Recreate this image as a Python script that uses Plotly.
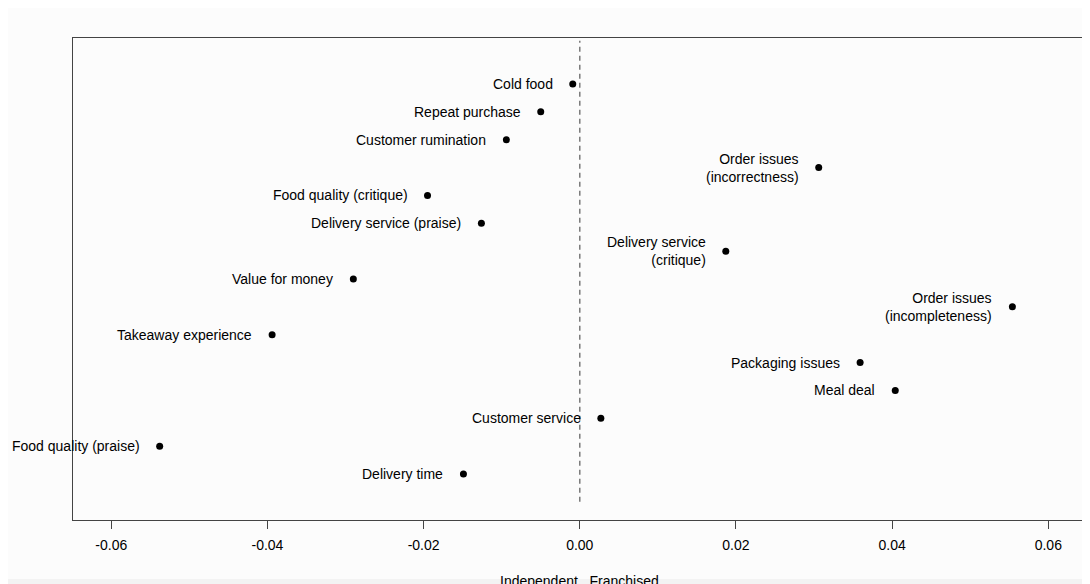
import plotly.graph_objects as go

# Categories listed top to bottom
labels = [
    "Cold food",
    "Repeat purchase",
    "Customer rumination",
    "Order issues<br>(incorrectness)",
    "Food quality (critique)",
    "Delivery service (praise)",
    "Delivery service<br>(critique)",
    "Value for money",
    "Order issues<br>(incompleteness)",
    "Takeaway experience",
    "Packaging issues",
    "Meal deal",
    "Customer service",
    "Food quality (praise)",
    "Delivery time",
]
values = [
    -0.0009, -0.0050, -0.0094, 0.0306, -0.0195, -0.0126, 0.0187, -0.0290,
    0.0554, -0.0394, 0.0359, 0.0404, 0.0027, -0.0538, -0.0149,
]
tick_vals = [-0.06, -0.04, -0.02, 0.0, 0.02, 0.04, 0.06]
tick_text = ["-0.06", "-0.04", "-0.02", "0.00", "0.02", "0.04", "0.06"]
x_title = "Independent...Franchised"

n = len(labels)
positions = [n - i for i in range(n)]

FONT = "Liberation Sans, Arial, Helvetica, sans-serif"

fig = go.Figure()
fig.add_trace(go.Scatter(
    x=values, y=positions, mode="markers",
    marker=dict(color="black", size=7),
    hoverinfo="skip", showlegend=False,
))

for lab, v, p in zip(labels, values, positions):
    fig.add_annotation(
        x=v, y=p, xref="x", yref="y", text=lab, showarrow=False,
        xanchor="right", yanchor="middle", align="right", xshift=-18,
        font=dict(family=FONT, size=14, color="black"),
    )

fig.add_shape(type="line", x0=0, x1=0, y0=0, y1=16.55, xref="x", yref="y",
              line=dict(color="#7a7a7a", width=1.5, dash="5px,4px"), layer="below")

# axis title
fig.add_annotation(
    x=0, y=-61 / 482, xref="x", yref="paper", text=x_title, showarrow=False,
    xanchor="center", yanchor="middle",
    font=dict(family=FONT, size=14, color="black"),
)

# light gray strip at the very bottom of the window
fig.add_shape(type="rect", xref="paper", yref="paper", x0=-0.2, x1=1.2,
              y0=-(579 - 520) / 482, y1=-0.3, fillcolor="#f3f3f3",
              line=dict(width=0), layer="below")

fig.update_layout(
    width=1082, height=576,
    margin=dict(l=65, r=5, t=30, b=64),
    paper_bgcolor="#fcfcfc", plot_bgcolor="#fcfcfc",
    font=dict(family=FONT, size=14, color="black"),
    xaxis=dict(
        range=[-0.0649, 0.0647], tickvals=tick_vals, ticktext=tick_text,
        ticks="outside", ticklen=8, tickwidth=1, tickcolor="#444",
        showgrid=False, zeroline=False, showline=True, mirror=True,
        linecolor="#444", linewidth=1.3, ticklabelstandoff=4,
        tickfont=dict(family=FONT, size=14, color="black"),
    ),
    yaxis=dict(
        range=[-0.651, 16.651], showticklabels=False, ticks="",
        showgrid=False, zeroline=False, showline=True, mirror=True,
        linecolor="#444", linewidth=1.3,
    ),
)

fig.write_html("out.html")
